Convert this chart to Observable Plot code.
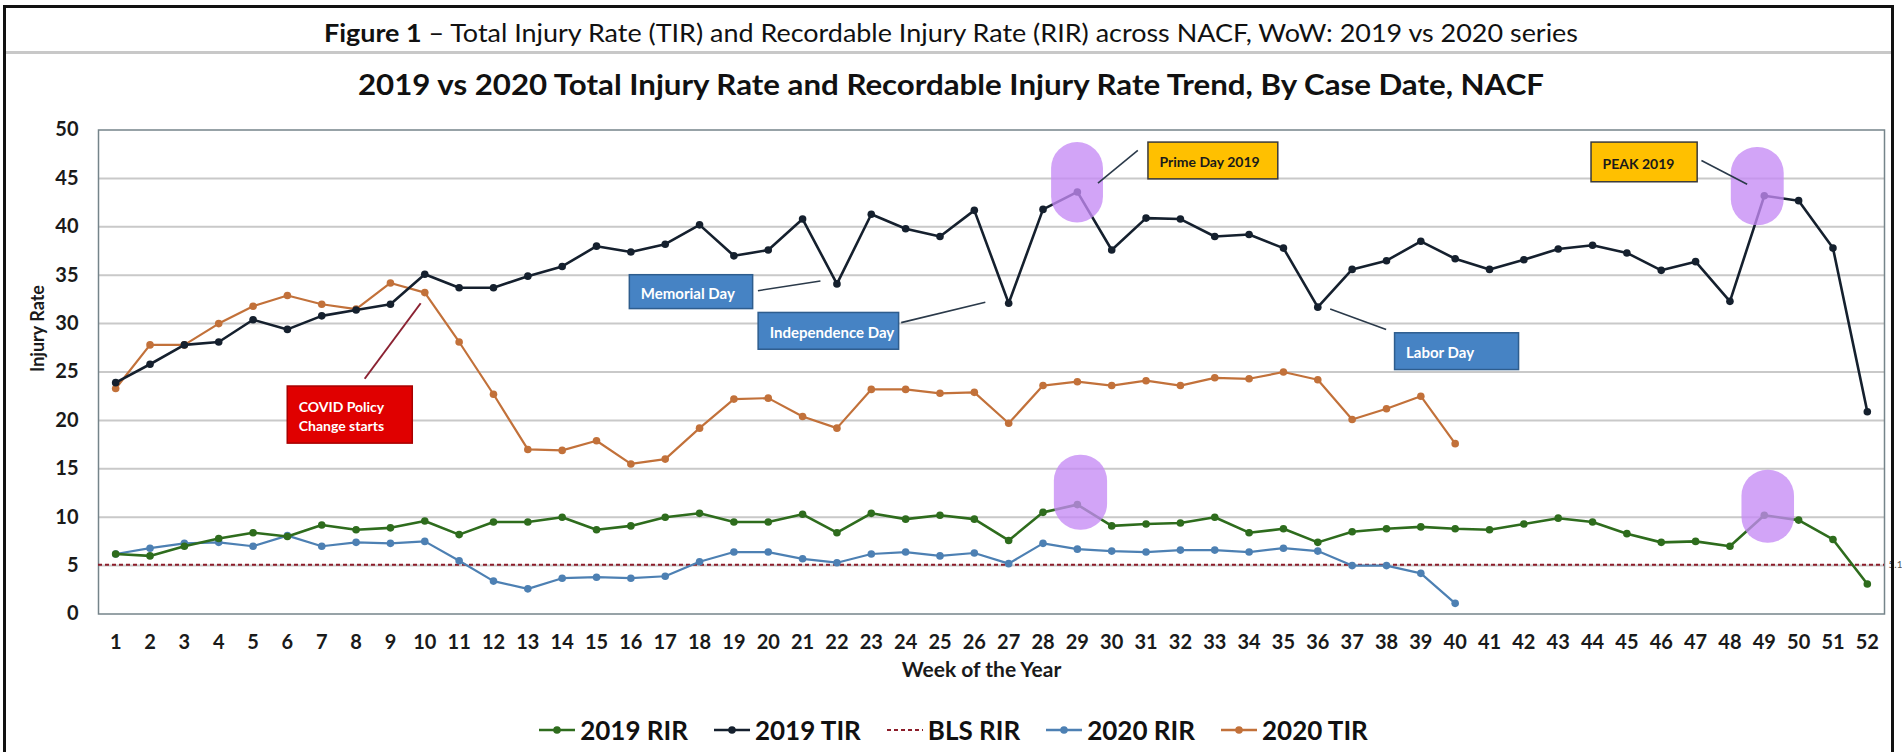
<!DOCTYPE html>
<html>
<head>
<meta charset="utf-8">
<script src="https://cdn.jsdelivr.net/npm/d3@7"></script>
<script src="https://cdn.jsdelivr.net/npm/@observablehq/plot@0.6"></script>
<style>
  html, body { margin: 0; padding: 0; background: #fff; }
  #wrap { position: relative; width: 1902px; height: 752px; overflow: hidden; background: #fff; font-family: Lato, "Open Sans", sans-serif; color: #111; }
  #wrap svg.plot { position: absolute; left: 0; top: 0; }
  #frame { position: absolute; left: 3px; top: 5px; width: 1891px; height: 800px; border: 3px solid #111; box-sizing: border-box; pointer-events: none; }
  #sep { position: absolute; left: 6px; width: 1885px; top: 51px; height: 3px; background: #c8c8c8; }
  .title { position: absolute; left: 0; width: 1902px; text-align: center; white-space: nowrap; transform: scaleX(1.077); transform-origin: 951px 50%; }
  #t1 { top: 16px; font-size: 25px; line-height: 32px; font-weight: 400; }
  #t1 b { font-weight: 700; }
  #t2 { top: 66px; font-size: 29px; line-height: 36px; font-weight: 700; }
  #legend { position: absolute; left: 2px; width: 1902px; top: 713px; height: 34px; display: flex; justify-content: center; align-items: center; gap: 25px; }
  .item { display: flex; align-items: center; font-size: 26px; font-weight: 700; white-space: nowrap; }
  .item svg { margin-right: 4px; }
</style>
</head>
<body>
<div id="wrap">
  <div class="title" id="t1"><b>Figure 1</b> – Total Injury Rate (TIR) and Recordable Injury Rate (RIR) across NACF, WoW: 2019 vs 2020 series</div>
  <div id="sep"></div>
  <div class="title" id="t2">2019 vs 2020 Total Injury Rate and Recordable Injury Rate Trend, By Case Date, NACF</div>
  <div id="legend"></div>
  <div id="frame"></div>
</div>
<script>
// ---------------- data ----------------
const weeks = [1,2,3,4,5,6,7,8,9,10,11,12,13,14,15,16,17,18,19,20,21,22,23,24,25,26,
               27,28,29,30,31,32,33,34,35,36,37,38,39,40,41,42,43,44,45,46,47,48,49,50,51,52];
const yTicks = [0, 5, 10, 15, 20, 25, 30, 35, 40, 45, 50];

const rir2019 = [6.2, 6.0, 7.0, 7.8, 8.4, 8.0, 9.2, 8.7, 8.9, 9.6,
                 8.2, 9.5, 9.5, 10.0, 8.7, 9.1, 10.0, 10.4, 9.5, 9.5,
                 10.3, 8.4, 10.4, 9.8, 10.2, 9.8, 7.6, 10.5, 11.3, 9.1,
                 9.3, 9.4, 10.0, 8.4, 8.8, 7.4, 8.5, 8.8, 9.0, 8.8,
                 8.7, 9.3, 9.9, 9.5, 8.3, 7.4, 7.5, 7.0, 10.2, 9.7,
                 7.7, 3.1];
const tir2019 = [23.9, 25.8, 27.8, 28.1, 30.4, 29.4, 30.8, 31.4, 32.0, 35.1,
                 33.7, 33.7, 34.9, 35.9, 38.0, 37.4, 38.2, 40.2, 37.0, 37.6,
                 40.8, 34.1, 41.3, 39.8, 39.0, 41.7, 32.1, 41.8, 43.6, 37.6,
                 40.9, 40.8, 39.0, 39.2, 37.8, 31.7, 35.6, 36.5, 38.5, 36.7,
                 35.6, 36.6, 37.7, 38.1, 37.3, 35.5, 36.4, 32.3, 43.2, 42.7,
                 37.8, 20.9];
const rir2020 = [6.2, 6.8, 7.3, 7.4, 7.0, 8.1, 7.0, 7.4, 7.3, 7.5,
                 5.5, 3.4, 2.6, 3.7, 3.8, 3.7, 3.9, 5.4, 6.4, 6.4,
                 5.7, 5.3, 6.2, 6.4, 6.0, 6.3, 5.2, 7.3, 6.7, 6.5,
                 6.4, 6.6, 6.6, 6.4, 6.8, 6.5, 5.0, 5.0, 4.2, 1.1];
const tir2020 = [23.3, 27.8, 27.8, 30.0, 31.8, 32.9, 32.0, 31.5, 34.2, 33.2,
                 28.1, 22.7, 17.0, 16.9, 17.9, 15.5, 16.0, 19.2, 22.2, 22.3,
                 20.4, 19.2, 23.2, 23.2, 22.8, 22.9, 19.7, 23.6, 24.0, 23.6,
                 24.1, 23.6, 24.4, 24.3, 25.0, 24.2, 20.1, 21.2, 22.5, 17.6];
const blsRir = 5.1;

const seriesNames  = ["2019 RIR", "2019 TIR", "BLS RIR", "2020 RIR", "2020 TIR"];
const seriesColors = ["#2e6c1d", "#15202e", "#8c1d2a", "#4d80b3", "#c2713a"];

// annotations (in data units: week, injury rate)
const calloutText = ["Prime Day 2019", "PEAK 2019", "Memorial Day", "Independence Day", "Labor Day", "COVID Policy\nChange starts"];
const calloutKind = ["event", "event", "holiday", "holiday", "holiday", "policy"];
const calloutBox = [[31.07, 34.85, 44.9, 48.7], [43.97, 47.06, 44.6, 48.7], [15.97, 19.56, 31.5, 35.0],
                    [19.72, 23.81, 27.3, 31.1], [38.25, 41.86, 25.2, 29.0], [6.01, 9.65, 17.6, 23.5]];
const calloutLeader = [[30.76, 47.9, 29.6, 44.5], [47.17, 46.85, 48.5, 44.4], [19.7, 33.4, 21.52, 34.4],
                       [23.87, 30.1, 26.32, 32.2], [36.36, 31.5, 37.99, 29.4], [8.25, 24.3, 9.88, 32.1]];
const highlightBox = [[28.25, 29.76, 40.4, 48.7], [48.04, 49.58, 40.1, 48.2],
                      [28.33, 29.88, 8.66, 16.4], [48.35, 49.88, 7.3, 14.85]];

// ---------------- build ----------------
const rows = (vals) => vals.map((v, i) => ({week: weeks[i], value: v}));
const kindStyle = {
  event:   {fill: "#ffc000", stroke: "#3a3a3a", text: "#1a1a1a", size: 14, weight: 600},
  holiday: {fill: "#4683c4", stroke: "#2e5d8e", text: "#ffffff", size: 15, weight: 400},
  policy:  {fill: "#e00000", stroke: "#a80000", text: "#ffffff", size: 14, weight: 400}
};
const callouts = calloutText.map((t, i) => {
  const [x1, x2, y1, y2] = calloutBox[i];
  const [lx1, ly1, lx2, ly2] = calloutLeader[i];
  const s = kindStyle[calloutKind[i]];
  return {t, x1, x2, y1, y2, ym: (y1 + y2) / 2, lx1, ly1, lx2, ly2, ...s, kind: calloutKind[i]};
});
const pills = highlightBox.map(([x1, x2, y1, y2]) => ({x1, x2, y1, y2}));

const seriesData = [rir2019, tir2019, null, rir2020, tir2020];
const seriesWidth = [2.6, 2.6, 2, 2.2, 2.2];
const lineMarks = [];
[4, 3, 0, 1].forEach(k => {
  const d = rows(seriesData[k]);
  lineMarks.push(Plot.line(d, {x: "week", y: "value", stroke: seriesColors[k], strokeWidth: seriesWidth[k]}));
  lineMarks.push(Plot.dot(d, {x: "week", y: "value", fill: seriesColors[k], r: 3.8}));
});

const chart = Plot.plot({
  width: 1902,
  height: 752,
  marginLeft: 98,
  marginRight: 18,
  marginTop: 129.5,
  marginBottom: 138.5,
  x: {domain: [0.5, 52.5]},
  y: {domain: [0, 50]},
  style: {fontFamily: "Lato, 'Open Sans', sans-serif", fontSize: "20px", fontWeight: 700, color: "#1a1a1a", background: "transparent", overflow: "visible"},
  marks: [
    Plot.ruleY(yTicks.filter(v => v > 0 && v < 50), {stroke: "#c9c9c9", strokeWidth: 2}),
    Plot.frame({stroke: "#75848a", strokeWidth: 1.5}),
    Plot.ruleY([blsRir], {stroke: seriesColors[2], strokeWidth: 2, strokeDasharray: "4,3"}),
    Plot.text([blsRir], {x: 52.5, y: d => d, text: d => d.toFixed(1), dx: 4, textAnchor: "start", fontSize: 10, fontWeight: 400, fill: "#555"}),
    ...lineMarks,
    Plot.rect(pills, {x1: "x1", x2: "x2", y1: "y1", y2: "y2", fill: "#c58af5", fillOpacity: 0.78, rx: 26}),
    Plot.link(callouts, {x1: "lx1", y1: "ly1", x2: "lx2", y2: "ly2",
      stroke: d => d.kind === "policy" ? "#8b2232" : "#2b3a4a", strokeWidth: d => d.kind === "policy" ? 2 : 1.6}),
    Plot.rect(callouts, {x1: "x1", x2: "x2", y1: "y1", y2: "y2", fill: "fill", stroke: "stroke", strokeWidth: 1.5}),
    Plot.text(callouts, {x: "x1", y: "ym", text: "t", dx: 11, textAnchor: "start", fill: "text",
      fontSize: d => d.size, fontWeight: d => d.weight, lineHeight: 1.4}),
    Plot.axisX(weeks, {tickSize: 0, tickPadding: 21, label: null, tickFormat: d => String(d)}),
    Plot.axisY(yTicks, {tickSize: 0, tickPadding: 20, label: null}),
    Plot.text(["Week of the Year"], {frameAnchor: "bottom", dy: 63, dx: -10, fontSize: 21, fontWeight: 700}),
    Plot.text(["Injury Rate"], {frameAnchor: "left", dx: -60, rotate: -90, fontSize: 18, fontWeight: 700})
  ]
});
chart.classList.add("plot");
const wrap = document.getElementById("wrap");
wrap.insertBefore(chart, wrap.firstChild);

// ---------------- legend ----------------
const legend = document.getElementById("legend");
seriesNames.forEach((name, k) => {
  const item = document.createElement("div");
  item.className = "item";
  const dashed = name === "BLS RIR";
  const sw = dashed
    ? `<svg width="38" height="12"><line x1="1" y1="6" x2="37" y2="6" stroke="${seriesColors[k]}" stroke-width="2.2" stroke-dasharray="4,3"/></svg>`
    : `<svg width="38" height="12"><line x1="1" y1="6" x2="37" y2="6" stroke="${seriesColors[k]}" stroke-width="2.6"/><circle cx="19" cy="6" r="3.8" fill="${seriesColors[k]}"/></svg>`;
  item.innerHTML = sw + `<span>${name}</span>`;
  legend.appendChild(item);
});
</script>
</body>
</html>
